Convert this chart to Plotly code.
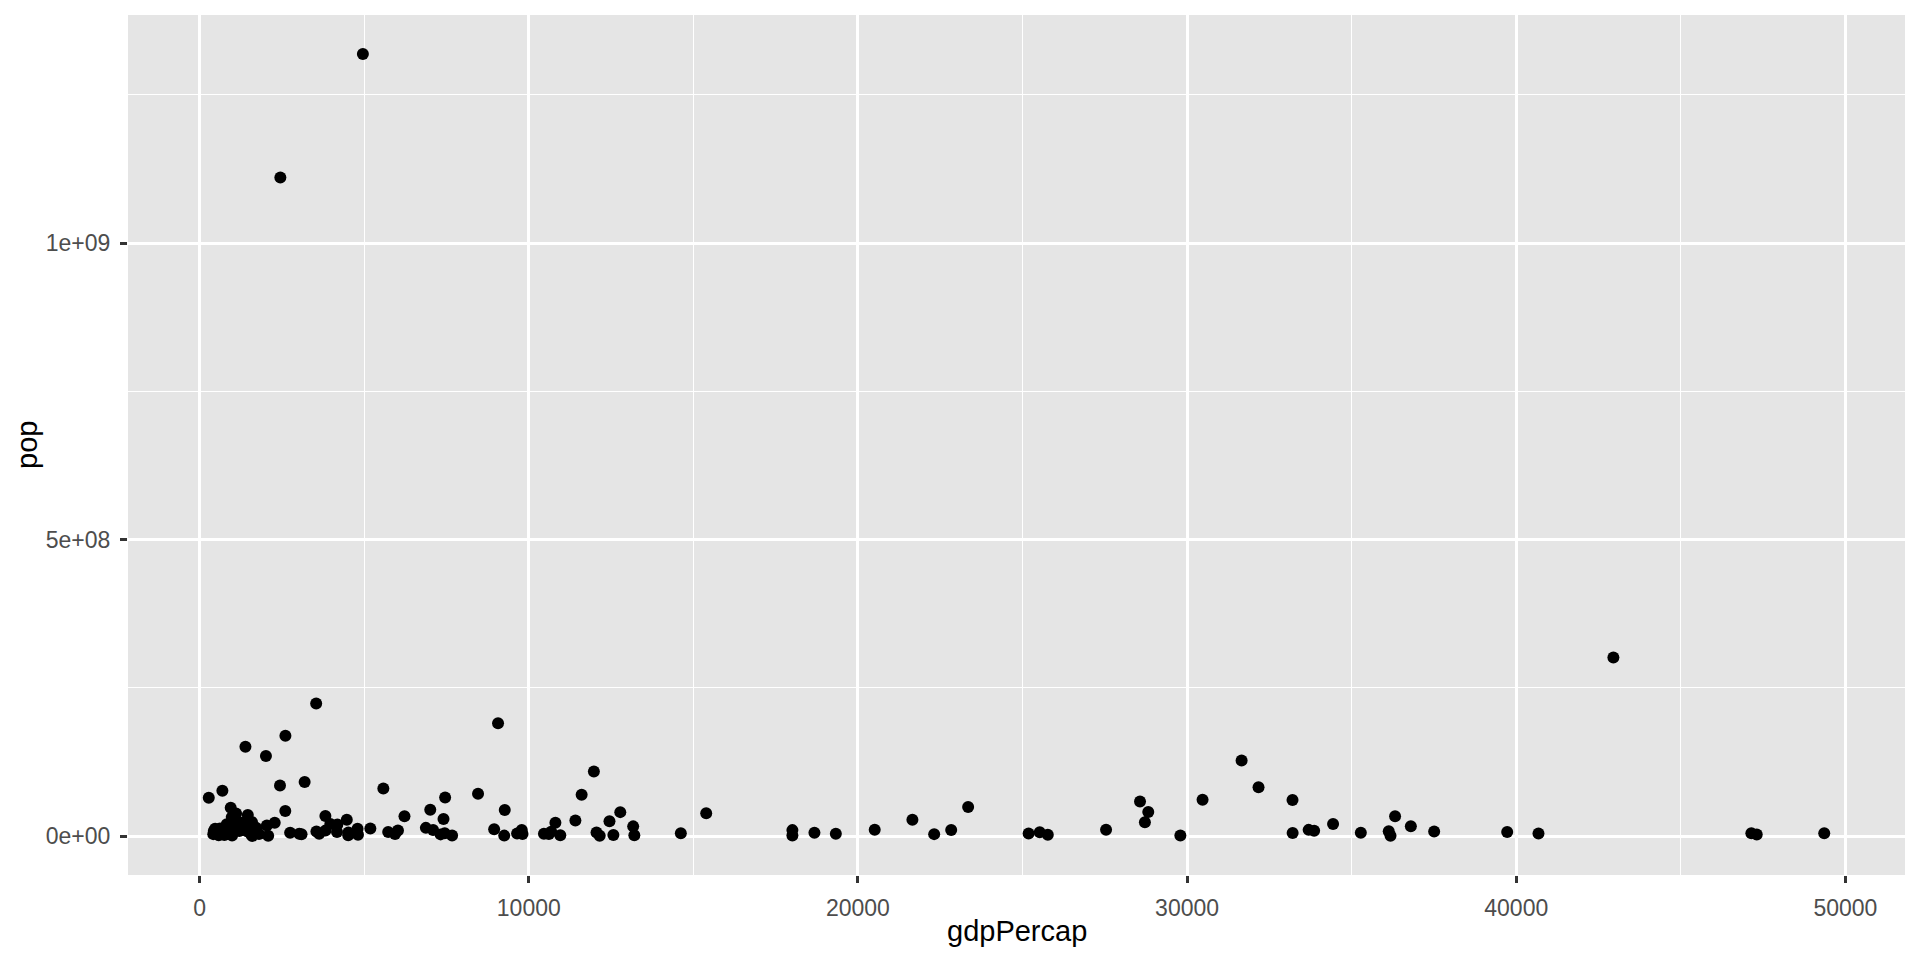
import plotly.graph_objects as go

countries = ["Afghanistan","Albania","Algeria","Angola","Argentina","Australia","Austria","Bahrain","Bangladesh","Belgium",
"Benin","Bolivia","Bosnia and Herzegovina","Botswana","Brazil","Bulgaria","Burkina Faso","Burundi","Cambodia","Cameroon",
"Canada","Central African Republic","Chad","Chile","China","Colombia","Comoros","Congo, Dem. Rep.","Congo, Rep.","Costa Rica",
"Cote d'Ivoire","Croatia","Cuba","Czech Republic","Denmark","Djibouti","Dominican Republic","Ecuador","Egypt","El Salvador",
"Equatorial Guinea","Eritrea","Ethiopia","Finland","France","Gabon","Gambia","Germany","Ghana","Greece",
"Guatemala","Guinea","Guinea-Bissau","Haiti","Honduras","Hong Kong, China","Hungary","Iceland","India","Indonesia",
"Iran","Iraq","Ireland","Israel","Italy","Jamaica","Japan","Jordan","Kenya","Korea, Dem. Rep.",
"Korea, Rep.","Kuwait","Lebanon","Lesotho","Liberia","Libya","Madagascar","Malawi","Malaysia","Mali",
"Mauritania","Mauritius","Mexico","Mongolia","Montenegro","Morocco","Mozambique","Myanmar","Namibia","Nepal",
"Netherlands","New Zealand","Nicaragua","Niger","Nigeria","Norway","Oman","Pakistan","Panama","Paraguay",
"Peru","Philippines","Poland","Portugal","Puerto Rico","Reunion","Romania","Rwanda","Sao Tome and Principe","Saudi Arabia",
"Senegal","Serbia","Sierra Leone","Singapore","Slovak Republic","Slovenia","Somalia","South Africa","Spain","Sri Lanka",
"Sudan","Swaziland","Sweden","Switzerland","Syria","Taiwan","Tanzania","Thailand","Togo","Trinidad and Tobago",
"Tunisia","Turkey","Uganda","United Kingdom","United States","Uruguay","Venezuela","Vietnam","West Bank and Gaza","Yemen, Rep.",
"Zambia","Zimbabwe"]

gdp_percap = [974.58,5937.03,6223.37,4797.23,12779.38,34435.37,36126.49,29796.05,1391.25,33692.61,
1441.28,3822.14,7446.30,12569.85,9065.80,10680.79,1217.03,430.07,1713.78,2042.10,
36319.24,706.02,1704.06,13171.64,4959.11,7006.58,986.15,277.55,3632.56,9645.06,
1544.75,14619.22,8948.10,22833.31,35278.42,2082.48,6025.37,6873.26,5581.18,5728.35,
12154.09,641.37,690.81,33207.08,30470.02,13206.48,752.75,32170.37,1327.61,27538.41,
5186.05,942.65,579.23,1201.64,3548.33,39724.98,18008.94,36180.79,2452.21,3540.65,
11605.71,4471.06,40676.00,25523.28,28569.72,7320.88,31656.07,4519.46,1463.25,1593.07,
23348.14,47306.99,10461.06,1569.33,414.51,12057.50,1044.77,759.35,12451.66,1042.58,
1803.15,10956.99,11977.57,3095.77,9253.90,3820.18,823.69,944.00,4811.06,1091.36,
36797.93,25185.01,2749.32,619.68,2013.98,49357.19,22316.19,2605.95,9809.19,4172.84,
7408.91,3190.48,15389.92,20509.65,19328.71,7670.12,10808.48,863.09,1598.44,21654.83,
1712.47,9786.53,862.54,47143.18,18678.31,25768.26,926.14,9269.66,28821.06,3970.10,
2602.39,4513.48,33859.75,37506.42,4184.55,28718.28,1107.48,7458.40,882.97,18008.51,
7092.92,8458.28,1056.38,33203.26,42951.65,10611.46,11415.81,2441.58,3025.35,2280.77,
1271.21,469.71]

pop = [31889923,3600523,33333216,12420476,40301927,20434176,8199783,708573,150448339,10392226,
8078314,9119152,4552198,1639131,190010647,7322858,14326203,8390505,14131858,17696293,
33390141,4369038,10238807,16284741,1318683096,44227550,710960,64606759,3800610,4133884,
18013409,4493312,11416987,10228744,5468120,496374,9319622,13755680,80264543,6939688,
551201,4906585,76511887,5238460,61083916,1454867,1688359,82400996,22873338,10706290,
12572928,9947814,1472041,8502814,7483763,6980412,9956108,301931,1110396331,223547000,
69453570,27499638,4109086,6426679,58147733,2780132,127467972,6053193,35610177,23301725,
49044790,2505559,3921278,2012649,3193942,6036914,19167654,13327079,24821286,12031795,
3270065,1250882,108700891,2874127,684736,33757175,19951656,47761980,2055080,28901790,
16570613,4115771,5675356,12894865,135031164,4627926,3204897,169270617,3242173,6667147,
28674757,91077287,38518241,10642836,3942491,798094,22276056,8860588,199579,27601038,
12267493,10150265,6144562,4553009,5447502,2009245,9118773,43997828,40448191,20378239,
42292929,1133066,9031088,7554661,19314747,23174294,38139640,65068149,5701579,1056608,
10276158,71158647,29170398,60776238,301139947,3447496,26084662,85262356,4018332,22211743,
11746035,12311143]

x_ticks = [0, 10000, 20000, 30000, 40000, 50000]
x_tick_labels = ["0", "10000", "20000", "30000", "40000", "50000"]
y_ticks = [0, 5e8, 1e9]
y_tick_labels = ["0e+00", "5e+08", "1e+09"]

W, H = 1920, 960
ML, MR, MT, MB = 128, 15, 15, 85

xmin, xmax = min(gdp_percap), max(gdp_percap)
ymin, ymax = min(pop), max(pop)
xpad = 0.05 * (xmax - xmin)
ypad = 0.05 * (ymax - ymin)

font_family = "Liberation Sans, Arial, Helvetica, sans-serif"

fig = go.Figure(go.Scatter(
    x=gdp_percap, y=pop, text=countries, mode="markers",
    marker=dict(color="black", size=12, line=dict(width=0)),
    hovertemplate="%{text}<br>gdpPercap=%{x}<br>pop=%{y}<extra></extra>",
))

axis_common = dict(
    showline=False, zeroline=False, showgrid=True,
    gridcolor="white", gridwidth=2.6,
    ticks="outside", ticklen=7, tickwidth=2.6, tickcolor="#333333",
    tickfont=dict(family=font_family, size=23, color="#4D4D4D"),
)

fig.update_xaxes(
    range=[xmin - xpad, xmax + xpad],
    tickmode="array", tickvals=x_ticks, ticktext=x_tick_labels,
    minor=dict(tick0=0, dtick=5000, showgrid=True, gridcolor="white", gridwidth=1.3, ticklen=0),
    ticklabelstandoff=5,
    **axis_common,
)
fig.update_yaxes(
    range=[ymin - ypad, ymax + ypad],
    tickmode="array", tickvals=y_ticks, ticktext=y_tick_labels,
    minor=dict(tick0=0, dtick=2.5e8, showgrid=True, gridcolor="white", gridwidth=1.3, ticklen=0),
    ticklabelstandoff=5,
    **axis_common,
)

pw = W - ML - MR
ph = H - MT - MB

fig.update_layout(
    width=W, height=H,
    margin=dict(l=ML, r=MR, t=MT, b=MB, pad=0),
    paper_bgcolor="white", plot_bgcolor="#E5E5E5",
    showlegend=False,
    font=dict(family=font_family),
    annotations=[
        dict(text="gdpPercap", xref="paper", yref="paper", x=0.5, y=-(931 - (H - MB)) / ph,
             xanchor="center", yanchor="middle", showarrow=False,
             font=dict(family=font_family, size=29, color="black")),
        dict(text="pop", xref="paper", yref="paper", x=-(ML - 27) / pw, y=0.5,
             xanchor="center", yanchor="middle", textangle=-90, showarrow=False,
             font=dict(family=font_family, size=29, color="black")),
    ],
)

fig.write_html("out.html", config={"displayModeBar": False},
               post_script="document.body.style.margin='0';document.body.style.overflow='hidden';")
